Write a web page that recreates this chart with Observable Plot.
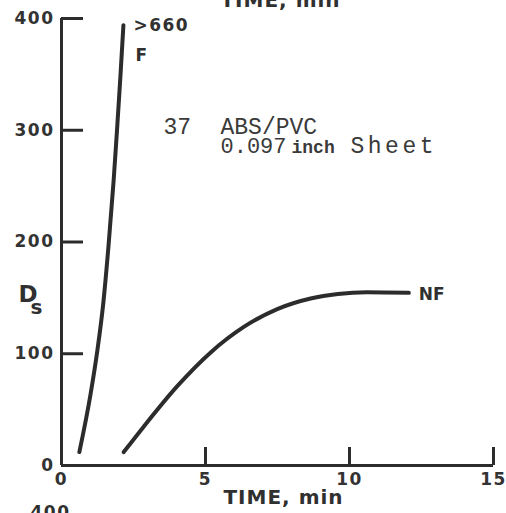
<!DOCTYPE html>
<html>
<head>
<meta charset="utf-8">
<script src="https://cdn.jsdelivr.net/npm/d3@7"></script>
<script src="https://cdn.jsdelivr.net/npm/@observablehq/plot@0.6"></script>
<style>
  body { margin: 0; background: #fff; }
  #chart g[aria-label="y-axis tick label"] text,
  #chart g[aria-label="x-axis tick label"] text { letter-spacing: 1.5px; }
</style>
</head>
<body>
<div id="chart"></div>
<script>
// Smoke density Ds against time, flaming (F) and non-flaming (NF) exposure
const timeF = [0.62, 1.01, 1.24, 1.45, 1.64, 1.81, 1.93, 2.05, 2.15];
const dsF   = [12,   64,   102,  145,  199,  255,  301,  350,  394];

const timeNF = [2.16, 2.86, 4.02, 5.17, 6.33, 7.49, 8.65, 9.6,  10.6, 12.06];
const dsNF   = [12,   35,   71,   101,  124,  140,  149.5, 153.5, 155, 154.5];

const xTicks = [0, 5, 10, 15];
const yTicks = [0, 100, 200, 300, 400];

const labelF = [">660", "F"];
const labelNF = "NF";
const specimen = ["37", "ABS/PVC", "0.097", "inch", "Sheet"];

const seriesF = timeF.map((t, i) => ({time: t, ds: dsF[i]}));
const seriesNF = timeNF.map((t, i) => ({time: t, ds: dsNF[i]}));

const ink = "#2c2c2c";
const letter = "DejaVu Sans";
const typewriter = "Liberation Mono";

const W = 506, H = 513;
const mL = 61, mR = 13, mT = 18, mB = 48;
const frameW = W - mL - mR, frameH = H - mT - mB;

const chart = Plot.plot({
  width: W,
  height: H,
  marginTop: mT,
  marginRight: mR,
  marginBottom: mB,
  marginLeft: mL,
  x: {domain: [0, 15]},
  y: {domain: [0, 400]},
  style: {fontFamily: letter, fontWeight: "bold", fontSize: "17px", color: "#333", background: "#fff"},
  marks: [
    // axis numbers (ticks drawn inward below)
    Plot.axisX(xTicks, {tickSize: 0, tickPadding: 7, label: null, fontSize: 17}),
    Plot.axisY(yTicks, {tickSize: 0, tickPadding: 7, label: null, fontSize: 17}),
    // axis lines
    Plot.ruleX([0], {stroke: ink, strokeWidth: 3}),
    Plot.ruleY([0], {stroke: ink, strokeWidth: 3}),
    // inward tick marks
    Plot.tickY(yTicks, {y: d => d, stroke: ink, strokeWidth: 3, insetRight: frameW - 22}),
    Plot.tickX(xTicks, {x: d => d, stroke: ink, strokeWidth: 3, insetTop: frameH - 18}),
    // curves
    Plot.line(seriesF, {x: "time", y: "ds", curve: "monotone-x", stroke: ink, strokeWidth: 4, strokeLinecap: "round"}),
    Plot.line(seriesNF, {x: "time", y: "ds", curve: "monotone-x", stroke: ink, strokeWidth: 4, strokeLinecap: "round"}),
    // curve labels
    Plot.text([seriesF[seriesF.length - 1]], {x: "time", y: "ds", text: () => labelF[0], textAnchor: "start", dx: 10, dy: 0, fontSize: 17, fill: "#303030"}),
    Plot.text([seriesF[seriesF.length - 1]], {x: "time", y: "ds", text: () => labelF[1], textAnchor: "start", dx: 12, dy: 30, fontSize: 17, fill: "#303030"}),
    Plot.text([seriesNF[seriesNF.length - 1]], {x: "time", y: "ds", text: () => labelNF, textAnchor: "start", dx: 10, dy: 2, fontSize: 17, fill: "#303030"}),
    // axis titles
    Plot.text(["TIME, min"], {text: d => d, frameAnchor: "bottom", dx: 6, dy: 38, lineAnchor: "bottom", fontSize: 20, fill: "#303030"}),
    Plot.text(["D"], {text: d => d, frameAnchor: "left", dx: -43, dy: 60, lineAnchor: "bottom", fontSize: 23, fill: "#303030"}),
    Plot.text(["s"], {text: d => d, frameAnchor: "left", dx: -31, dy: 72, lineAnchor: "bottom", fontSize: 20, fill: "#303030"}),
    // edges of the neighbouring panels
    Plot.text(["TIME, min"], {text: d => d, frameAnchor: "top", dx: 3, dy: -12, lineAnchor: "bottom", fontSize: 20, fill: "#303030"}),
    Plot.text(["400"], {text: d => d, frameAnchor: "bottom-left", dx: -31, dy: 40, lineAnchor: "top", fontSize: 17, fill: "#303030"}),
    // specimen description (typed)
    Plot.text([specimen[0]], {text: d => d, frameAnchor: "top-left", dx: 102, dy: 115, lineAnchor: "bottom", textAnchor: "start", fontFamily: typewriter, fontWeight: "normal", fontSize: 23, fill: "#3a3a3a"}),
    Plot.text([specimen[1]], {text: d => d, frameAnchor: "top-left", dx: 159, dy: 115, lineAnchor: "bottom", textAnchor: "start", fontFamily: typewriter, fontWeight: "normal", fontSize: 23, fill: "#3a3a3a"}),
    Plot.text([specimen[2]], {text: d => d, frameAnchor: "top-left", dx: 159, dy: 134, lineAnchor: "bottom", textAnchor: "start", fontFamily: typewriter, fontWeight: "normal", fontSize: 22, fill: "#3a3a3a"}),
    Plot.text([specimen[3]], {text: d => d, frameAnchor: "top-left", dx: 230, dy: 134, lineAnchor: "bottom", textAnchor: "start", fontFamily: typewriter, fontWeight: "bold", fontSize: 18, fill: "#3a3a3a"}),
    Plot.text([specimen[4]], {text: d => d, frameAnchor: "top-left", dx: 289, dy: 134, lineAnchor: "bottom", textAnchor: "start", fontFamily: typewriter, fontWeight: "normal", fontSize: 23, fill: "#3a3a3a"})
  ]
});

// wider spacing for the typed word and the hand-lettered titles
d3.select(chart).selectAll("text").each(function () {
  const t = this.textContent;
  if (t === "Sheet") this.style.letterSpacing = "3.5px";
  if (t === "TIME, min") this.style.letterSpacing = "1px";
  if (t === ">660" || t === "400") this.style.letterSpacing = "1.5px";
});

document.getElementById("chart").appendChild(chart);
</script>
</body>
</html>
